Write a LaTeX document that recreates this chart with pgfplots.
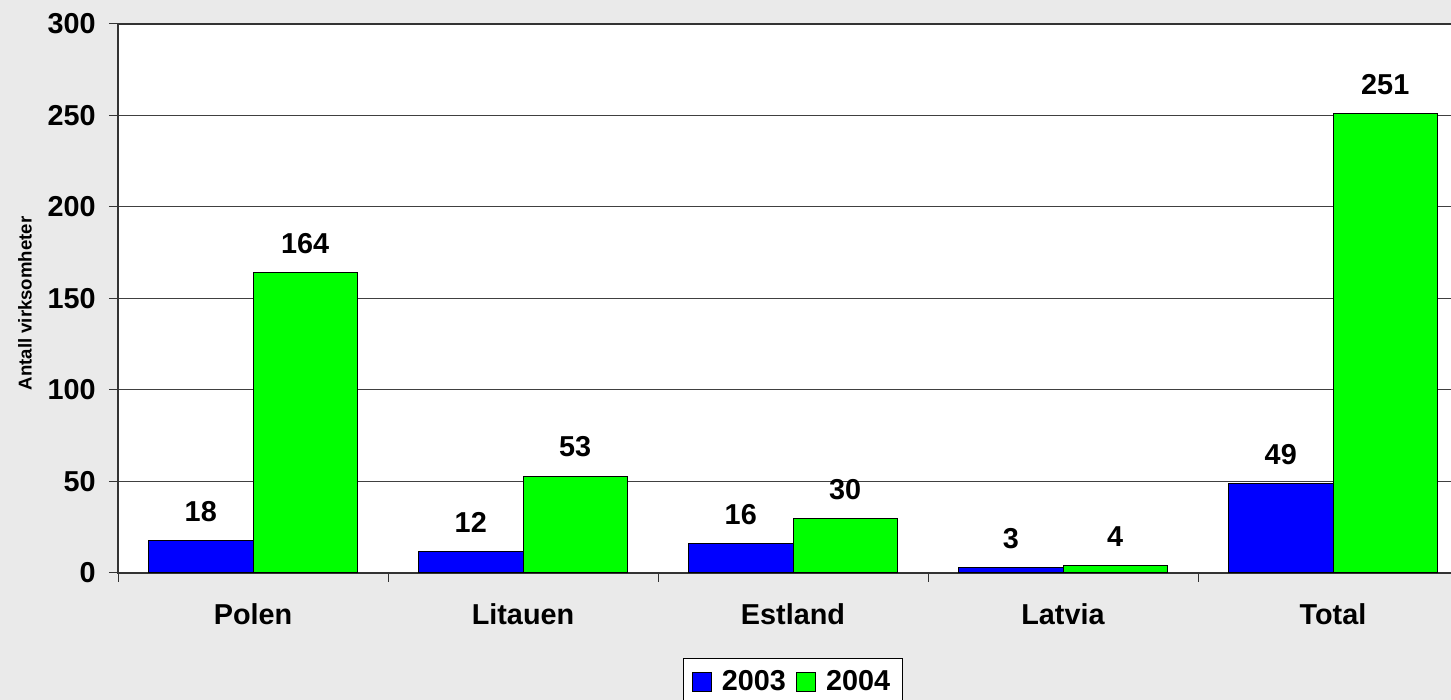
\documentclass[border=0pt]{standalone}
\usepackage{pgfplots}
\pgfplotsset{compat=1.18}
\usepackage{fontspec}
\setmainfont{Liberation Sans}
\definecolor{bg}{HTML}{EAEAEA}
\definecolor{barblue}{HTML}{0000FF}
\definecolor{bargreen}{HTML}{00FF00}
\newcommand{\lbl}{\bfseries\fontsize{14.4}{16}\selectfont}
\begin{document}
\begin{tikzpicture}
\useasboundingbox (0,0) rectangle (725.5pt,350pt);
\clip (0,0) rectangle (725.5pt,350pt);
\fill[bg] (0,0) rectangle (725.5pt,350pt);
\begin{axis}[
  at={(59pt,63.5pt)}, anchor=south west,
  scale only axis, width=675pt, height=274.5pt,
  xmin=-0.5, xmax=4.5, ymin=0, ymax=300,
  axis background/.style={fill=white},
  axis line style={black!80, line width=0.6pt},
  ybar, bar width=0.387,
  xtick={0,1,2,3,4},
  xticklabels={Polen,Litauen,Estland,Latvia,Total},
  minor xtick={-0.5,0.5,1.5,2.5,3.5,4.5},
  major x tick style={draw=none},
  ytick={0,50,100,150,200,250,300},
  tick pos=left,
  tick align=outside,
  major tick length=4.5pt, minor tick length=4.5pt,
  tick style={black!80, line width=0.5pt},
  ymajorgrids,
  major grid style={black!75, line width=0.5pt},
  /pgf/number format/assume math mode=true,
  xticklabel style={font=\lbl, anchor=center, yshift=-16pt},
  yticklabel style={font=\lbl, anchor=east, inner sep=0pt, xshift=-6.5pt},
  ylabel={Antall virksomheter},
  every axis y label/.style={at={(axis description cs:0,0.491)}, xshift=-46.5pt, rotate=90, anchor=center, font=\bfseries\fontsize{9.3}{10}\selectfont},
  nodes near coords,
  every node near coord/.append style={font=\lbl, anchor=south, yshift=5.8pt, text=black},
  legend image code/.code={\draw[#1] (0pt,-4.75pt) rectangle (9.5pt,4.75pt); \path (12.5pt,0pt);},
  legend columns=2,
  legend style={at={(0.5,0)}, anchor=center, yshift=-54.5pt, draw=black, fill=white, font=\lbl, line width=0.5pt,
    inner xsep=4pt, inner ysep=4pt,
    /tikz/every even column/.append style={column sep=3pt}},
]
\addplot[bar shift=-0.1935, fill=barblue, draw=black, line width=0.5pt] coordinates {(0,18) (1,12) (2,16) (3,3) (4,49)};
\addplot[bar shift=0.1935, fill=bargreen, draw=black, line width=0.5pt] coordinates {(0,164) (1,53) (2,30) (3,4) (4,251)};
\legend{2003,2004}
\end{axis}
\end{tikzpicture}
\end{document}
